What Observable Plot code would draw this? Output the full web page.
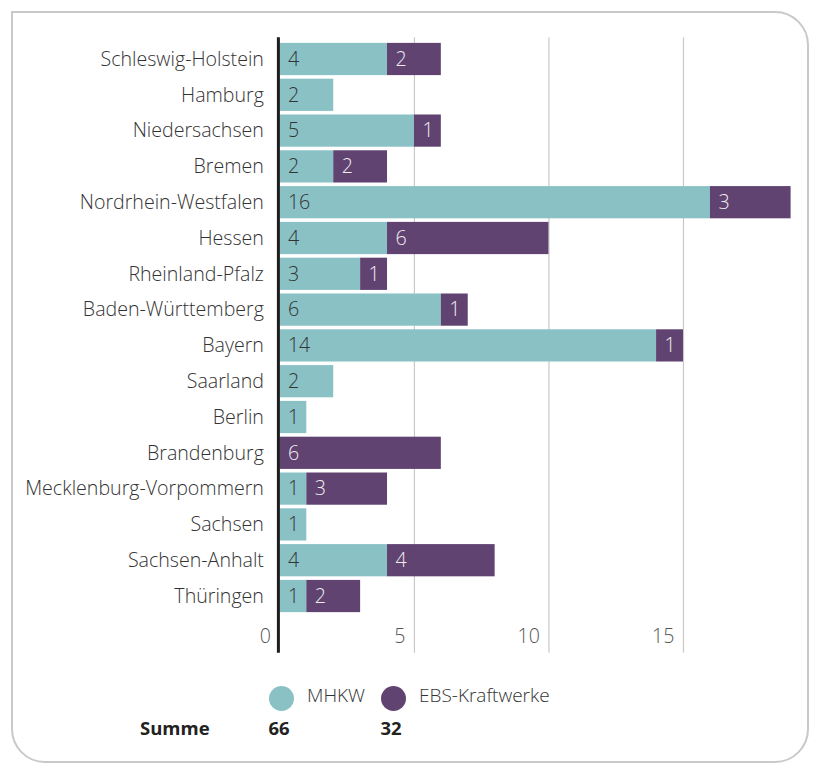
<!DOCTYPE html>
<html>
<head>
<meta charset="utf-8">
<script src="https://cdn.jsdelivr.net/npm/d3@7"></script>
<script src="https://cdn.jsdelivr.net/npm/@observablehq/plot@0.6"></script>
<style>
  html, body { margin: 0; padding: 0; background: #fff; }
  body { position: relative; width: 817px; height: 765px; overflow: hidden; font-family: "Open Sans", sans-serif; }
  #card { position: absolute; left: 11px; top: 11px; width: 798px; height: 752px; border: 2px solid #c9c9cb; border-radius: 0 34px 34px 34px; box-sizing: border-box; }
  #chart { position: absolute; left: 0; top: 0; }
  .leg { position: absolute; font-size: 19px; font-weight: 300; color: #333; line-height: 1; }
  .dot { position: absolute; width: 25px; height: 25px; border-radius: 50%; }
  .sum { position: absolute; font-size: 18.5px; font-weight: 700; color: #222; line-height: 1; }
</style>
</head>
<body>
<div id="card"></div>
<div id="chart"></div>
<div id="legend"></div>
<script>
const states = ["Schleswig-Holstein","Hamburg","Niedersachsen","Bremen","Nordrhein-Westfalen","Hessen","Rheinland-Pfalz","Baden-Württemberg","Bayern","Saarland","Berlin","Brandenburg","Mecklenburg-Vorpommern","Sachsen","Sachsen-Anhalt","Thüringen"];
const mhkw = [4,2,5,2,16,4,3,6,14,2,1,0,1,1,4,1];
const ebs  = [2,0,1,2,3,6,1,1,1,0,0,6,3,0,4,2];
const types = ["MHKW","EBS-Kraftwerke"];
const colors = ["#89c1c5","#614372"];
const xTicks = [0,5,10,15];
const gridTicks = [5,10,15];
const sumLabel = "Summe";

const data = [];
states.forEach((s, i) => {
  data.push({state: s, type: types[0], value: mhkw[i]});
  data.push({state: s, type: types[1], value: ebs[i]});
});

const font = "'Open Sans', sans-serif";
const plot = Plot.plot({
  width: 817,
  height: 660,
  marginLeft: 279.4,
  marginRight: 26.4,
  marginTop: 39.3,
  marginBottom: 44.3,
  style: {fontFamily: font, fontSize: "19.6px", fontWeight: 300, background: "transparent"},
  x: {domain: [0, 19], axis: null},
  y: {domain: states, axis: null, padding: 0.1, round: false},
  color: {domain: types, range: colors},
  marks: [
    Plot.ruleX(gridTicks, {x: d => d, stroke: "#c8c8c8", strokeWidth: 1.2, insetTop: -2, insetBottom: -37}),
    Plot.barX(data, Plot.stackX({x: "value", y: "state", fill: "type"})),
    Plot.text(data, Plot.stackX1({x: "value", y: "state", text: d => (d.type === types[0] && d.value > 0) ? String(d.value) : null, textAnchor: "start", dx: 8, fill: "#333", fontWeight: 300})),
    Plot.text(data, Plot.stackX1({x: "value", y: "state", text: d => (d.type === types[1] && d.value > 0) ? String(d.value) : null, textAnchor: "start", dx: 8, fill: "#eeeeee", fontWeight: 300})),
    Plot.ruleX([0], {x: d => d, stroke: "#1d1d1d", strokeWidth: 3, dx: -1.5, insetTop: -2, insetBottom: -37}),
    Plot.text(states, {y: d => d, frameAnchor: "left", textAnchor: "end", dx: -16, fill: "#333", fontWeight: 300}),
    Plot.text(xTicks, {x: d => d, frameAnchor: "bottom", textAnchor: "end", dx: -9, dy: 27, fill: "#555", fontWeight: 300})
  ]
});
document.getElementById("chart").appendChild(plot);

// legend & sums
const leg = document.getElementById("legend");
const sums = [d3.sum(mhkw), d3.sum(ebs)];
const legX = [281, 393];
types.forEach((t, i) => {
  const dot = document.createElement("div");
  dot.className = "dot";
  dot.style.background = colors[i];
  dot.style.left = (legX[i] - 12.5) + "px";
  dot.style.top = (698 - 12.5) + "px";
  leg.appendChild(dot);
  const lab = document.createElement("div");
  lab.className = "leg";
  lab.textContent = t;
  lab.style.left = (legX[i] + 26) + "px";
  lab.style.top = (698 - 12) + "px";
  leg.appendChild(lab);
  const s = document.createElement("div");
  s.className = "sum";
  s.textContent = String(sums[i]);
  s.style.left = (legX[i] - 42) + "px";
  s.style.width = "80px";
  s.style.textAlign = "center";
  s.style.top = (731 - 12) + "px";
  leg.appendChild(s);
});
const sl = document.createElement("div");
sl.className = "sum";
sl.textContent = sumLabel;
sl.style.left = "140px";
sl.style.top = (731 - 12) + "px";
leg.appendChild(sl);
</script>
</body>
</html>
